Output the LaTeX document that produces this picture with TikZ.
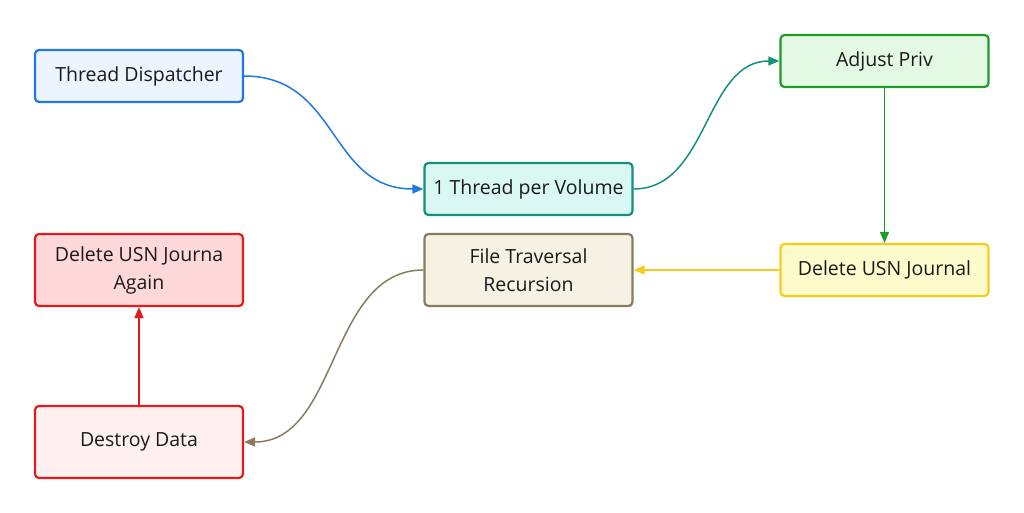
\documentclass[tikz,border=0pt]{standalone}
\usepackage{fontspec}
\setmainfont{Open Sans}
\usetikzlibrary{arrows.meta}
\definecolor{bB}{HTML}{1F78E6}\definecolor{bF}{HTML}{EBF4FF}
\definecolor{tB}{HTML}{13917E}\definecolor{tF}{HTML}{D9F8F1}
\definecolor{gB}{HTML}{1E9A2A}\definecolor{gF}{HTML}{E3F9E3}
\definecolor{nB}{HTML}{8A7B5F}\definecolor{nF}{HTML}{F6F2E3}
\definecolor{yB}{HTML}{F7CB1E}\definecolor{yF}{HTML}{FDFBCB}
\definecolor{rB}{HTML}{E21B1F}\definecolor{rF}{HTML}{FFD8DA}\definecolor{rF2}{HTML}{FFF0F0}
\definecolor{txt}{HTML}{1A1A1A}
\tikzset{
  box/.style={draw, line width=2.2pt, rounded corners=4pt, minimum width=208pt, align=center, font=\fontsize{19.5}{28}\selectfont, text=txt, inner sep=0pt},
  sbox/.style={box, minimum height=52pt},
  tbox/.style={box, minimum height=72pt},
  conn/.style={line width=1.5pt, -{Triangle[length=11pt,width=9pt]}}
}
\begin{document}
\begin{tikzpicture}[x=1pt,y=-1pt]
\useasboundingbox (0,0) rectangle (1024,513);
\node[sbox, draw=bB, fill=bF] (td) at (139,76) {Thread Dispatcher};
\node[sbox, draw=tB, fill=tF] (tv) at (528.5,189) {1 Thread per Volume};
\node[sbox, draw=gB, fill=gF] (ap) at (884.5,61) {Adjust Priv};
\node[tbox, draw=nB, fill=nF] (ft) at (528.5,270) {File Traversal\\Recursion};
\node[sbox, draw=yB, fill=yF] (du) at (884.5,270) {Delete USN Journal};
\node[tbox, draw=rB, fill=rF] (da) at (139,270) {Delete USN Journa\\Again};
\node[tbox, draw=rB, fill=rF2] (dd) at (139,442) {Destroy Data};
\draw[conn, draw=bB] (td.east) .. controls +(95,0) and +(-95,0) .. (tv.west);
\draw[conn, draw=tB] (tv.east) .. controls +(75,0) and +(-75,0) .. (ap.west);
\draw[conn, draw=gB] (ap.south) -- (du.north);
\draw[conn, draw=yB] (du.west) -- (ft.east);
\draw[conn, draw=nB] (ft.west) .. controls +(-95,0) and +(95,0) .. (dd.east);
\draw[conn, draw=rB] (dd.north) -- (da.south);
\end{tikzpicture}
\end{document}
